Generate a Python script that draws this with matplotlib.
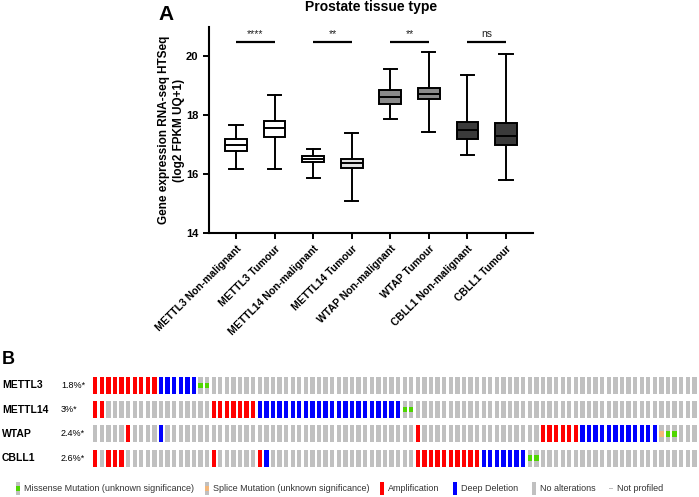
import numpy as np
import matplotlib
matplotlib.use("Agg")
import matplotlib.pyplot as plt
from matplotlib.patches import Rectangle
import matplotlib.transforms as mtransforms

plt.rcParams.update({
    "font.family": ["Liberation Sans", "DejaVu Sans"], "font.weight": "bold",
    "axes.linewidth": 1.5, "figure.facecolor": "white",
})

# ---------------------------------------------------------------- panel A data
groups = ["METTL3 Non-malignant", "METTL3 Tumour", "METTL14 Non-malignant", "METTL14 Tumour",
          "WTAP Non-malignant", "WTAP Tumour", "CBLL1 Non-malignant", "CBLL1 Tumour"]
whis_lo = [16.18, 16.16, 15.88, 15.08, 17.86, 17.44, 16.65, 15.80]
q1 = [16.78, 17.27, 16.41, 16.22, 18.40, 18.57, 17.18, 17.00]
med = [17.00, 17.56, 16.50, 16.39, 18.63, 18.74, 17.50, 17.30]
q3 = [17.20, 17.81, 16.60, 16.53, 18.85, 18.93, 17.76, 17.73]
whis_hi = [17.66, 18.69, 16.85, 17.39, 19.56, 20.15, 19.36, 20.09]
box_colors = ["white", "white", "white", "#e2e2e2", "#8a8a8a", "#8a8a8a", "#3a3a3a", "#3a3a3a"]
sig_pairs = [(0, 1), (2, 3), (4, 5), (6, 7)]
sig_labels = ["****", "**", "**", "ns"]
sig_y = 20.48

# ---------------------------------------------------------------- panel B data
genes = ["METTL3", "METTL14", "WTAP", "CBLL1"]
freqs = ["1.8%*", "3%*", "2.4%*", "2.6%*"]
n_samples = 92
amp = [list(range(0, 10)),
       [0, 1] + list(range(18, 25)),
       [5, 49] + list(range(68, 74)),
       [0, 2, 3, 4, 18, 25] + list(range(49, 59))]
deep_del = [list(range(10, 16)),
            list(range(25, 47)),
            [10] + list(range(74, 86)),
            [26] + list(range(59, 66))]
missense = [[16, 17], [47, 48], [87, 88], [66, 67]]
splice = [[], [], [86], []]

C_GRAY, C_AMP, C_DEL, C_MIS, C_SPL = "#c0c0c0", "#ff0000", "#0000ff", "#4fd600", "#f3b77c"

W, H = 699, 497
fig = plt.figure(figsize=(W / 100, H / 100), dpi=100)

# ---------------------------------------------------------------- panel A
ax = fig.add_axes([209 / W, 1 - 233 / H, 324 / W, 206 / H])
stats = [dict(whislo=a, q1=b, med=c, q3=d, whishi=e, fliers=[])
         for a, b, c, d, e in zip(whis_lo, q1, med, q3, whis_hi)]
x = np.arange(len(groups))
bp = ax.bxp(stats, positions=x, widths=0.56, patch_artist=True, showfliers=False,
            boxprops=dict(linewidth=1.4, edgecolor="black"),
            medianprops=dict(color="black", linewidth=1.4),
            whiskerprops=dict(linewidth=1.4), capprops=dict(linewidth=1.4), capwidths=0.34)
for patch, c in zip(bp["boxes"], box_colors):
    patch.set_facecolor(c)

for (i, j), lab in zip(sig_pairs, sig_labels):
    ax.plot([x[i], x[j]], [sig_y, sig_y], color="black", lw=1.6, solid_capstyle="butt")
    ax.text((x[i] + x[j]) / 2, sig_y + 0.12, lab, ha="center", va="bottom",
            fontsize=7.5, fontweight="normal", color="#222222")

ax.set_xlim(-0.7, 7.7)
ax.set_ylim(14, 21)
ax.set_yticks([14, 16, 18, 20])
ax.set_xticks(x)
ax.set_xticklabels(groups, rotation=45, ha="right", rotation_mode="anchor", fontsize=7.5)
ax.tick_params(axis="both", width=1.4, length=4, labelsize=7.5)
ax.tick_params(axis="y", labelsize=8)
ax.spines["top"].set_visible(False)
ax.spines["right"].set_visible(False)
ax.set_ylabel("Gene expression RNA-seq HTSeq\n(log2 FPKM UQ+1)", fontsize=8.5,
              fontweight="bold", linespacing=1.3, labelpad=1)
ax.text(0.5, 1.0 + 20 / 206, "Prostate tissue type", transform=ax.transAxes,
        ha="center", va="center", fontsize=10, fontweight="bold")
fig.text(158 / W, 1 - 14 / H, "A", fontsize=15, fontweight="bold", va="center")

# ---------------------------------------------------------------- panel B
ax2 = fig.add_axes([91.9 / W, 1 - 470.3 / H, 605.8 / W, 97.2 / H])
ax2.set_xlim(-0.5, n_samples - 0.5)
ax2.set_ylim(len(genes) - 0.5, -0.5)
ax2.axis("off")
bw, bh = 0.66, 0.69
for r in range(len(genes)):
    for cidx in range(n_samples):
        col = C_GRAY
        if cidx in amp[r]:
            col = C_AMP
        elif cidx in deep_del[r]:
            col = C_DEL
        ax2.add_patch(Rectangle((cidx - bw / 2, r - bh / 2), bw, bh, color=col, lw=0))
    for cidx in missense[r]:
        ax2.add_patch(Rectangle((cidx - bw / 2, r - 0.11), bw, 0.22, color=C_MIS, lw=0))
    for cidx in splice[r]:
        ax2.add_patch(Rectangle((cidx - bw / 2, r - 0.11), bw, 0.22, color=C_SPL, lw=0))

tr = mtransforms.blended_transform_factory(fig.transFigure, ax2.transData)
for r, (g, f) in enumerate(zip(genes, freqs)):
    ax2.text(2 / W, r, g, transform=tr, ha="left", va="center", fontsize=7.5, fontweight="bold")
    ax2.text(61 / W, r, f, transform=tr, ha="left", va="center", fontsize=6.5, fontweight="normal")
fig.text(2 / W, 1 - 360 / H, "B", fontsize=13, fontweight="bold", va="center")

# legend row
axl = fig.add_axes([0, 0, 1, 1])
axl.set_xlim(0, W)
axl.set_ylim(H, 0)
axl.axis("off")
leg_items = [("Missense Mutation (unknown significance)", C_MIS, 16),
             ("Splice Mutation (unknown significance)", C_SPL, 205),
             ("Amplification", C_AMP, 380),
             ("Deep Deletion", C_DEL, 453),
             ("No alterations", C_GRAY, 532),
             ("Not profiled", None, 609)]
for lab, col, lx in leg_items:
    if col in (C_MIS, C_SPL):
        axl.add_patch(Rectangle((lx, 481.5), 4.3, 13.5, color=C_GRAY, lw=0))
        axl.add_patch(Rectangle((lx, 486), 4.3, 4.5, color=col, lw=0))
    elif col is None:
        axl.add_patch(Rectangle((lx, 488), 4, 1.2, color=C_GRAY, lw=0))
    else:
        axl.add_patch(Rectangle((lx, 481.5), 4.3, 13.5, color=col, lw=0))
    axl.text(lx + 8, 488.5, lab, ha="left", va="center", fontsize=6.5,
             fontweight="normal", color="#333333")

fig.savefig("out.png", dpi=100)
